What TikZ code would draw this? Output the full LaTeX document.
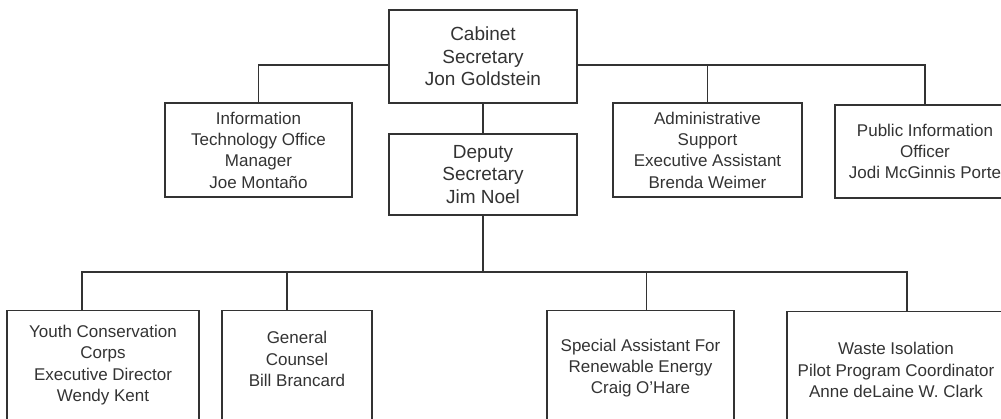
\documentclass[tikz,border=0pt]{standalone}
\usepackage{fontspec}
\setmainfont{Liberation Sans}
\usetikzlibrary{positioning}
\definecolor{inkgray}{gray}{0.2}
\tikzstyle{box} = [draw=inkgray, line width=1.3pt, rectangle, align=center, text=inkgray, inner sep=0pt]

\begin{document}
\begin{tikzpicture}[x=1pt,y=-1pt,
		head/.style={box,font=\fontsize{19}{22.5}\selectfont},
		staff/.style={box,font=\fontsize{17}{21.3}\selectfont},
		leaf/.style={draw=inkgray,line width=1.3pt,rectangle,anchor=north,inner sep=0pt,minimum height=140pt},
		note/.style={text=inkgray,align=center,font=\fontsize{17}{21.3}\selectfont},
		wire/.style={draw=inkgray,line width=1.3pt}]
		\useasboundingbox (0,0) rectangle (1001,419);
		\clip (0,0) rectangle (1001,419);
		\node (cab) [head,minimum width=188pt,minimum height=93pt] at (483,56.5) {Cabinet\\Secretary\\Jon Goldstein};
		\node (itm) [staff,minimum width=187pt,minimum height=94pt] at (258.5,150) {Information\\Technology Office\\Manager\\Joe Montaño};
		\node (dep) [head,minimum width=188pt,minimum height=81pt] at (483,174.5) {Deputy\\Secretary\\Jim Noel};
		\node (adm) [staff,minimum width=189pt,minimum height=94pt] at (707.5,150) {Administrative\\Support\\Executive Assistant\\Brenda Weimer};
		\node (pio) [staff,minimum width=180pt,minimum height=93pt] at (925,151.5) {Public Information\\Officer\\Jodi McGinnis Porte};
		\node (yce) [leaf,minimum width=192pt] at (103,310) {};
		\node (gen) [leaf,minimum width=150pt] at (297,310) {};
		\node (sar) [leaf,minimum width=187pt] at (640.5,310) {};
		\node (wip) [leaf,minimum width=218pt] at (896,311) {};
		\node (yce text) [note] at (103,365) {Youth Conservation\\Corps\\Executive Director\\Wendy Kent};
		\node (gen text) [note] at (297,359) {General\\Counsel\\Bill Brancard};
		\node (sar text) [note] at (640.5,368) {Special Assistant For\\Renewable Energy\\Craig O’Hare};
		\node (wip text) [note] at (896,370) {Waste Isolation\\Pilot Program Coordinator\\Anne deLaine W. Clark};
		\coordinate (topbus) at (483,65);
		\coordinate (lowbus) at (483,272);
		\draw [wire] (itm.north) |- (topbus -| cab.west);
		\draw [wire] (pio.north) |- (topbus -| cab.east);
		\draw [wire] (adm.north) -- (adm.north |- topbus);
		\draw [wire] (cab.south) -- (dep.north);
		\draw [wire] (dep.south) -- (lowbus);
		\draw [wire] ([xshift=-21pt]yce.north) |- ([xshift=11pt]wip.north |- lowbus) -- ([xshift=11pt]wip.north);
		\draw [wire] ([xshift=-10pt]gen.north) -- ([xshift=-10pt]gen.north |- lowbus);
		\draw [wire] ([xshift=6pt]sar.north) -- ([xshift=6pt]sar.north |- lowbus);
	\end{tikzpicture}
\end{document}
